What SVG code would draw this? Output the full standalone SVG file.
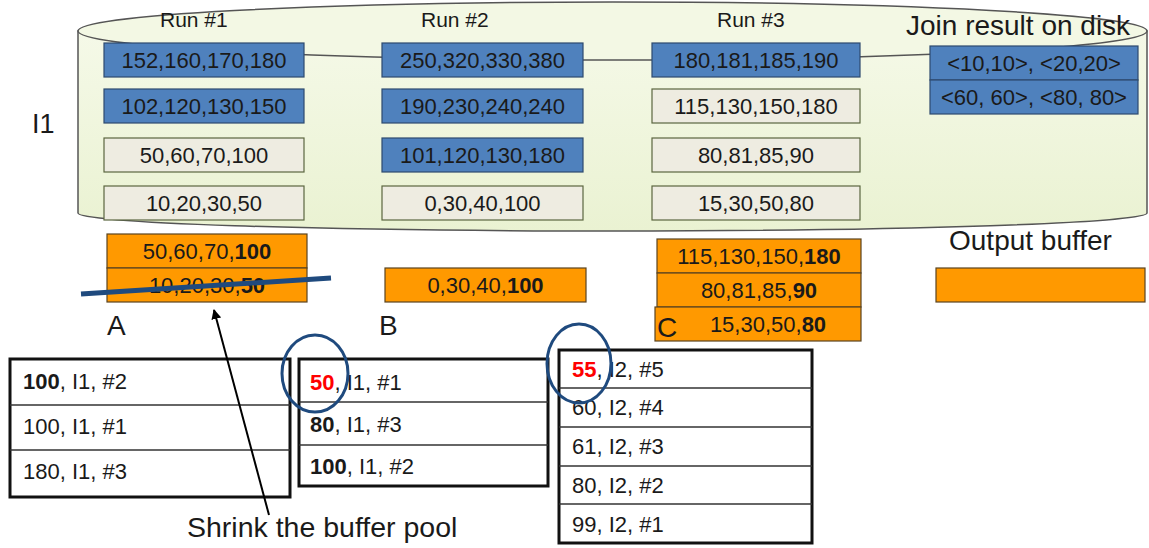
<svg xmlns="http://www.w3.org/2000/svg" width="1149" height="548" viewBox="0 0 1149 548">
  <defs>
    <style>
      text { font-family: "Liberation Sans", Arial, sans-serif; fill: #1a1a1a; }
      .lbl { font-size: 21px; }
      .cell { font-size: 22px; text-anchor: middle; }
      .big { font-size: 28px; }
      .row { font-size: 22px; }
      .b { font-weight: bold; }
      .red { fill: #ff0000; font-weight: bold; }
      .blue { fill: #4f81bd; stroke: #2d4a6e; stroke-width: 1.2; }
      .grey { fill: #eeece1; stroke: #5b6640; stroke-width: 1.2; }
      .orange { fill: #ff9900; stroke: #5a4420; stroke-width: 1.2; }
      .tbl { fill: #ffffff; stroke: #111; stroke-width: 3; }
      .rule { stroke: #333; stroke-width: 1.5; }
      .ring { fill: none; stroke: #1f4a7e; stroke-width: 3; }
    </style>
    <linearGradient id="disk" x1="0" y1="0" x2="0" y2="1">
      <stop offset="0" stop-color="#f5f9e8"/>
      <stop offset="1" stop-color="#eaf2d2"/>
    </linearGradient>
    <marker id="head" viewBox="0 0 10 10" refX="9" refY="5" markerWidth="5" markerHeight="5" orient="auto">
      <path d="M0,0 L10,5 L0,10 Z" fill="#000"/>
    </marker>
  </defs>

  <!-- disk cylinder -->
  <g id="disk-cylinder">
    <path d="M78,31 L78,213 A534.5,18 0 0,0 1147,213 L1147,31 Z" fill="url(#disk)" stroke="#555" stroke-width="1.5"/>
    <ellipse cx="612.5" cy="31" rx="534.5" ry="29" fill="#f3f8e4" stroke="#555" stroke-width="1.5"/>
  </g>

  <text x="32" y="133" style="font-size:27px">I1</text>

  <!-- run 1 -->
  <g id="run1">
    <text class="lbl" x="160" y="27">Run #1</text>
    <rect class="blue" x="104" y="43" width="200" height="34"/>
    <text class="cell" x="204" y="68">152,160,170,180</text>
    <rect class="blue" x="104" y="89" width="200" height="34"/>
    <text class="cell" x="204" y="114">102,120,130,150</text>
    <rect class="grey" x="104" y="138" width="200" height="34"/>
    <text class="cell" x="204" y="163">50,60,70,100</text>
    <rect class="grey" x="104" y="186" width="200" height="34"/>
    <text class="cell" x="204" y="211">10,20,30,50</text>
  </g>

  <!-- run 2 -->
  <g id="run2">
    <text class="lbl" x="421" y="27">Run #2</text>
    <rect class="blue" x="382" y="43" width="201" height="34"/>
    <text class="cell" x="482.5" y="68">250,320,330,380</text>
    <rect class="blue" x="382" y="89" width="201" height="34"/>
    <text class="cell" x="482.5" y="114">190,230,240,240</text>
    <rect class="blue" x="382" y="138" width="201" height="34"/>
    <text class="cell" x="482.5" y="163">101,120,130,180</text>
    <rect class="grey" x="382" y="186" width="201" height="34"/>
    <text class="cell" x="482.5" y="211">0,30,40,100</text>
  </g>

  <!-- run 3 -->
  <g id="run3">
    <text class="lbl" x="717" y="27">Run #3</text>
    <rect class="blue" x="652" y="43" width="208" height="34"/>
    <text class="cell" x="756" y="68">180,181,185,190</text>
    <rect class="grey" x="652" y="89" width="208" height="34"/>
    <text class="cell" x="756" y="114">115,130,150,180</text>
    <rect class="grey" x="652" y="138" width="208" height="34"/>
    <text class="cell" x="756" y="163">80,81,85,90</text>
    <rect class="grey" x="652" y="186" width="208" height="34"/>
    <text class="cell" x="756" y="211">15,30,50,80</text>
  </g>

  <!-- join result on disk -->
  <g id="join-result">
    <text x="906" y="35" style="font-size:28px">Join result on disk</text>
    <rect class="blue" x="930" y="46" width="208" height="34"/>
    <text class="cell" x="1034" y="71">&lt;10,10&gt;, &lt;20,20&gt;</text>
    <rect class="blue" x="930" y="80" width="208" height="34"/>
    <text class="cell" x="1034" y="105">&lt;60, 60&gt;, &lt;80, 80&gt;</text>
  </g>

  <!-- buffer A -->
  <g id="buffer-a">
    <rect class="orange" x="107" y="234" width="200" height="34"/>
    <text class="cell" x="207" y="259">50,60,70,<tspan class="b">100</tspan></text>
    <rect class="orange" x="107" y="268" width="200" height="34"/>
    <text class="cell" x="207" y="293">10,20,30,<tspan class="b">50</tspan></text>
    <line x1="81" y1="294" x2="331" y2="278" stroke="#1f4a7e" stroke-width="5"/>
    <text class="big" x="107" y="335">A</text>
  </g>

  <!-- buffer B -->
  <g id="buffer-b">
    <rect class="orange" x="385" y="268" width="201" height="34"/>
    <text class="cell" x="485.5" y="293">0,30,40,<tspan class="b">100</tspan></text>
    <text class="big" x="379" y="335">B</text>
  </g>

  <!-- buffer C -->
  <g id="buffer-c">
    <rect class="orange" x="657" y="239" width="204" height="34"/>
    <text class="cell" x="759" y="264">115,130,150,<tspan class="b">180</tspan></text>
    <rect class="orange" x="657" y="273" width="204" height="34"/>
    <text class="cell" x="759" y="298">80,81,85,<tspan class="b">90</tspan></text>
    <rect class="orange" x="655" y="307" width="206" height="34"/>
    <text class="cell" x="768" y="332">15,30,50,<tspan class="b">80</tspan></text>
    <text class="big" x="657" y="337">C</text>
  </g>

  <!-- output buffer -->
  <g id="output-buffer">
    <text class="big" x="949" y="250">Output buffer</text>
    <rect class="orange" x="936" y="268" width="209" height="34"/>
  </g>

  <!-- heap for I1 (before) -->
  <g id="heap-1">
    <rect class="tbl" x="10" y="359" width="280" height="138"/>
    <line class="rule" x1="10" y1="405" x2="290" y2="405"/>
    <line class="rule" x1="10" y1="450" x2="290" y2="450"/>
    <text class="row" x="23" y="389"><tspan class="b">100</tspan>, I1, #2</text>
    <text class="row" x="23" y="434">100, I1, #1</text>
    <text class="row" x="23" y="479">180, I1, #3</text>
  </g>

  <!-- heap for I1 (after) -->
  <g id="heap-2">
    <rect class="tbl" x="299" y="359" width="249" height="127"/>
    <line class="rule" x1="299" y1="402" x2="548" y2="402"/>
    <line class="rule" x1="299" y1="445" x2="548" y2="445"/>
    <text class="row" x="310" y="390"><tspan class="red">50</tspan>, I1, #1</text>
    <text class="row" x="310" y="432"><tspan class="b">80</tspan>, I1, #3</text>
    <text class="row" x="310" y="474"><tspan class="b">100</tspan>, I1, #2</text>
    <ellipse class="ring" cx="315" cy="373.5" rx="33" ry="38.5"/>
  </g>

  <!-- heap for I2 -->
  <g id="heap-3">
    <rect class="tbl" x="559" y="350" width="253" height="193"/>
    <line class="rule" x1="559" y1="388" x2="812" y2="388"/>
    <line class="rule" x1="559" y1="427" x2="812" y2="427"/>
    <line class="rule" x1="559" y1="466" x2="812" y2="466"/>
    <line class="rule" x1="559" y1="504" x2="812" y2="504"/>
    <text class="row" x="572" y="377"><tspan class="red">55</tspan>, I2, #5</text>
    <text class="row" x="572" y="415">60, I2, #4</text>
    <text class="row" x="572" y="454">61, I2, #3</text>
    <text class="row" x="572" y="493">80, I2, #2</text>
    <text class="row" x="572" y="532">99, I2, #1</text>
    <ellipse class="ring" cx="579" cy="363.5" rx="32" ry="39.5"/>
  </g>

  <!-- annotation -->
  <g id="connectors">
    <line x1="269" y1="515" x2="214" y2="310" stroke="#000" stroke-width="2" marker-end="url(#head)"/>
  </g>
  <text x="187" y="537" style="font-size:28.5px">Shrink the buffer pool</text>
</svg>
